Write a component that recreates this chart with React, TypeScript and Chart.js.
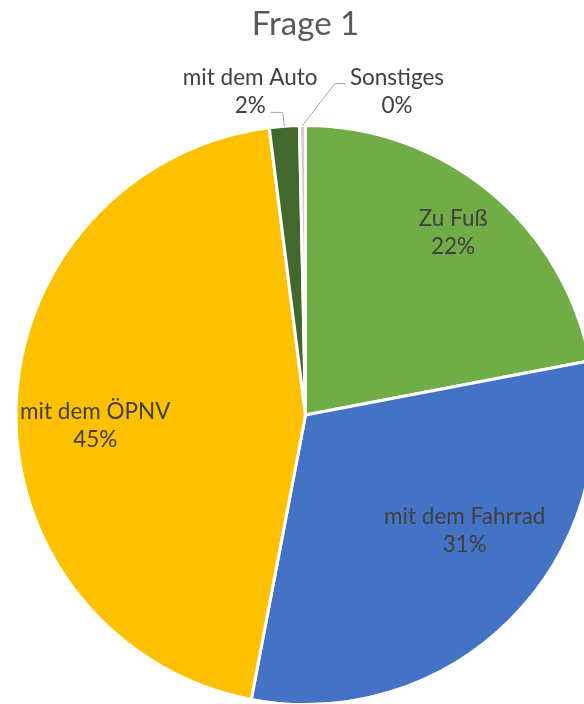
import { useEffect, useRef } from "react";
import { Chart, registerables } from "chart.js";

Chart.register(...registerables);

const titleText = "Frage 1";
const categories = ["Zu Fuß", "mit dem Fahrrad", "mit dem ÖPNV", "mit dem Auto", "Sonstiges"];
const answers = [66, 93, 135, 5, 1];
const sliceColors = ["#70AD47", "#4472C4", "#FFC000", "#43682B", "#D0D0D0"];

const FONT = "Lato, 'Open Sans', sans-serif";

const total = answers.reduce((a, b) => a + b, 0);
const percentText = answers.map((v) => `${Math.round((v / total) * 100)}%`);

// label placement relative to each slice's mid-angle (degrees turn, fraction of radius)
const placements = [
  { turn: -0.6, dist: 0.81 },
  { turn: -9, dist: 0.68 },
  { turn: -4.8, dist: 0.727 },
  { turn: -5.5, dist: 1.134, leader: { line: 1, side: "right", dy: 7 } },
  { turn: 16.4, dist: 1.161, leader: { line: 0, side: "left", dy: 6 } },
];

const labelPlugin = {
  id: "sliceLabels",
  afterDatasetsDraw(chart: any) {
    const ctx = chart.ctx as CanvasRenderingContext2D;
    const area = chart.chartArea;
    const meta = chart.getDatasetMeta(0);
    ctx.save();
    ctx.fillStyle = "#595959";
    ctx.font = `33px ${FONT}`;
    ctx.textAlign = "center";
    ctx.textBaseline = "alphabetic";
    const cx0 = (area.left + area.right) / 2;
    ctx.fillText(titleText, cx0, 35);

    ctx.font = `22.5px ${FONT}`;
    ctx.textBaseline = "middle";
    const lineGap = 28;
    meta.data.forEach((arc: any, i: number) => {
      const { x, y, startAngle, endAngle, outerRadius } = arc.getProps(
        ["x", "y", "startAngle", "endAngle", "outerRadius"],
        true
      );
      const mid = (startAngle + endAngle) / 2;
      const p: any = placements[i];
      const ang = mid + (p.turn * Math.PI) / 180;
      const lx = x + Math.cos(ang) * outerRadius * p.dist;
      const ly = y + Math.sin(ang) * outerRadius * p.dist;
      const lines = [categories[i], percentText[i]];
      ctx.fillStyle = "#404040";
      lines.forEach((t, k) => {
        ctx.fillText(t, lx, ly + (k === 0 ? -lineGap / 2 : lineGap / 2));
      });
      if (p.leader) {
        const L = p.leader;
        const lineY = ly + (L.line === 0 ? -lineGap / 2 : lineGap / 2) + L.dy;
        const w = ctx.measureText(lines[L.line]).width;
        const endX = L.side === "right" ? lx + w / 2 + 5 : lx - w / 2 - 4;
        const elbowX = L.side === "right" ? endX + 12 : endX - 11;
        const ex = x + Math.cos(mid) * outerRadius;
        const ey = y + Math.sin(mid) * outerRadius;
        ctx.strokeStyle = "#A6A6A6";
        ctx.lineWidth = 1;
        ctx.beginPath();
        ctx.moveTo(ex, ey);
        ctx.lineTo(elbowX, lineY);
        ctx.lineTo(endX, lineY);
        ctx.stroke();
      }
    });
    ctx.restore();
  },
};

export default function App() {
  const ref = useRef<HTMLCanvasElement | null>(null);
  useEffect(() => {
    if (!ref.current) return;
    const chart = new Chart(ref.current, {
      type: "pie",
      data: {
        labels: categories,
        datasets: [
          {
            data: answers,
            backgroundColor: sliceColors,
            borderColor: "#FFFFFF",
            borderWidth: 3,
            borderJoinStyle: "round",
          },
        ],
      },
      options: {
        responsive: false,
        maintainAspectRatio: false,
        animation: false,
        devicePixelRatio: 1,
        layout: { padding: { top: 124, bottom: 4, left: 0, right: 0 } },
        plugins: {
          legend: { display: false },
          tooltip: { enabled: false },
          title: { display: false },
        },
      },
      plugins: [labelPlugin],
    });
    return () => chart.destroy();
  }, []);
  return (
    <div
      style={{
        position: "fixed",
        left: 0,
        top: 0,
        width: 584,
        height: 704,
        overflow: "hidden",
        background: "#FFFFFF",
      }}
    >
      <canvas ref={ref} width={611} height={710} style={{ display: "block" }} />
    </div>
  );
}
